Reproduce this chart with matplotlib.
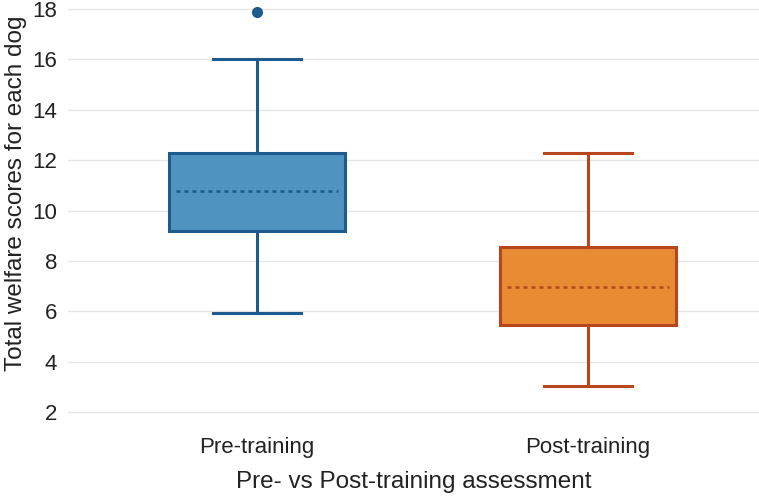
import matplotlib.pyplot as plt

groups = ['Pre-training', 'Post-training']
q1 = [9.19, 5.46]
med = [10.78, 6.97]
q3 = [12.29, 8.56]
wlo = [5.94, 3.04]
whi = [16.0, 12.29]
fliers = [[17.9], []]

fills = ['#4f93c0', '#e98b33']
edges = ['#1d5a8d', '#b5461d']

stats = []
for i in range(2):
    stats.append({'label': groups[i], 'q1': q1[i], 'med': med[i], 'q3': q3[i],
                  'whislo': wlo[i], 'whishi': whi[i], 'fliers': fliers[i]})

plt.rcParams['font.family'] = ['Liberation Sans', 'DejaVu Sans']

fig = plt.figure(figsize=(7.59, 4.99), dpi=100)
ax = fig.add_axes([0.0896, 0.1487, 0.9104, 0.8483])

for i in range(2):
    bp = ax.bxp([stats[i]], positions=[i + 1], widths=0.53, patch_artist=True,
                showfliers=True)
    c = edges[i]
    for b in bp['boxes']:
        b.set_facecolor(fills[i])
        b.set_edgecolor(c)
        b.set_linewidth(2.2)
        b.set_zorder(3)
    for w in bp['whiskers'] + bp['caps']:
        w.set_color(c)
        w.set_linewidth(2.2)
        w.set_zorder(3)
    for m in bp['medians']:
        m.set_color(c)
        m.set_linewidth(1.8)
        m.set_linestyle((0, (1.6, 1.6)))
        m.set_zorder(4)
        x0, x1 = m.get_xdata()
        m.set_xdata([x0 + 0.02, x1 - 0.02])
    for f in bp['fliers']:
        f.set_marker('o')
        f.set_markerfacecolor(c)
        f.set_markeredgecolor(c)
        f.set_markersize(7)

ax.set_xlim(0.429, 2.517)
ax.set_ylim(1.5, 18.3)
ax.set_yticks([2, 4, 6, 8, 10, 12, 14, 16, 18])
ax.set_xticks([1, 2])
ax.set_xticklabels(groups)
ax.tick_params(length=0, colors='#222222')
ax.tick_params(axis='y', labelsize=16, pad=8)
ax.tick_params(axis='x', labelsize=16, pad=9)
ax.yaxis.grid(True, color='#e6e6e6', linewidth=1)
ax.set_axisbelow(True)
for s in ax.spines.values():
    s.set_visible(False)

ax.set_xlabel('Pre- vs Post-training assessment', fontsize=17.5, color='#222222', labelpad=9)
ax.set_ylabel('Total welfare scores for each dog', fontsize=17.5, color='#222222')
ax.yaxis.set_label_coords(-0.06, 0.548)

fig.savefig('out.png', dpi=100)
